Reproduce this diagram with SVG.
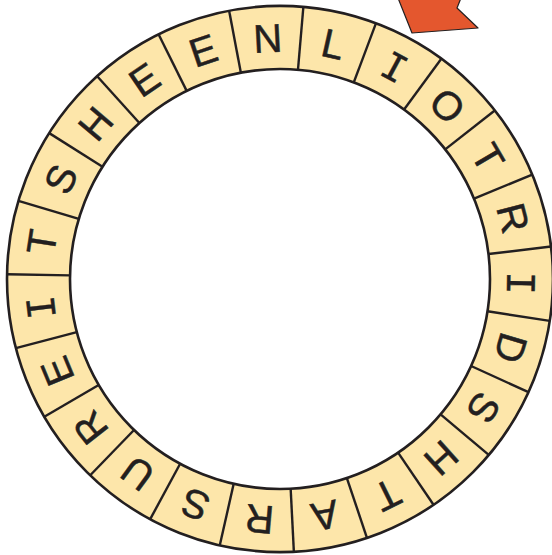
<svg xmlns="http://www.w3.org/2000/svg" width="552" height="555" viewBox="0 0 552 555">
<style>
.ring{fill:#FDE6AA;stroke:#231F20;stroke-width:2.6;fill-rule:evenodd}
.div{stroke:#231F20;stroke-width:2.4}
.lt{font-family:"Liberation Sans",Arial,sans-serif;font-size:40px;fill:#231F20;stroke:#231F20;stroke-width:0.5;text-anchor:middle}
.li{font-family:"DejaVu Sans Mono",monospace;font-size:38px;fill:#231F20;stroke:#231F20;stroke-width:0.4;text-anchor:middle}
.arrow{fill:#E4572E;stroke:#231F20;stroke-width:1.2;stroke-linejoin:round}
</style>
<rect width="552" height="555" fill="#ffffff"/>
<path class="ring" d="M7,279 a273,273 0 1,0 546,0 a273,273 0 1,0 -546,0 Z M70,279 a210,210 0 1,0 420,0 a210,210 0 1,0 -420,0 Z"/>
<g id="connectors">
<line class="div" x1="280" y1="69" x2="280" y2="6" transform="rotate(-89 280 279)"/>
<line class="div" x1="280" y1="69" x2="280" y2="6" transform="rotate(-73.35 280 279)"/>
<line class="div" x1="280" y1="69" x2="280" y2="6" transform="rotate(-57.70 280 279)"/>
<line class="div" x1="280" y1="69" x2="280" y2="6" transform="rotate(-42.04 280 279)"/>
<line class="div" x1="280" y1="69" x2="280" y2="6" transform="rotate(-26.39 280 279)"/>
<line class="div" x1="280" y1="69" x2="280" y2="6" transform="rotate(-10.74 280 279)"/>
<line class="div" x1="280" y1="69" x2="280" y2="6" transform="rotate(4.91 280 279)"/>
<line class="div" x1="280" y1="69" x2="280" y2="6" transform="rotate(20.57 280 279)"/>
<line class="div" x1="280" y1="69" x2="280" y2="6" transform="rotate(36.22 280 279)"/>
<line class="div" x1="280" y1="69" x2="280" y2="6" transform="rotate(51.87 280 279)"/>
<line class="div" x1="280" y1="69" x2="280" y2="6" transform="rotate(67.52 280 279)"/>
<line class="div" x1="280" y1="69" x2="280" y2="6" transform="rotate(83.17 280 279)"/>
<line class="div" x1="280" y1="69" x2="280" y2="6" transform="rotate(98.83 280 279)"/>
<line class="div" x1="280" y1="69" x2="280" y2="6" transform="rotate(114.48 280 279)"/>
<line class="div" x1="280" y1="69" x2="280" y2="6" transform="rotate(130.13 280 279)"/>
<line class="div" x1="280" y1="69" x2="280" y2="6" transform="rotate(145.78 280 279)"/>
<line class="div" x1="280" y1="69" x2="280" y2="6" transform="rotate(161.43 280 279)"/>
<line class="div" x1="280" y1="69" x2="280" y2="6" transform="rotate(177.09 280 279)"/>
<line class="div" x1="280" y1="69" x2="280" y2="6" transform="rotate(192.74 280 279)"/>
<line class="div" x1="280" y1="69" x2="280" y2="6" transform="rotate(208.39 280 279)"/>
<line class="div" x1="280" y1="69" x2="280" y2="6" transform="rotate(224.04 280 279)"/>
<line class="div" x1="280" y1="69" x2="280" y2="6" transform="rotate(239.70 280 279)"/>
<line class="div" x1="280" y1="69" x2="280" y2="6" transform="rotate(255.35 280 279)"/>
</g>
<g id="seg0" transform="rotate(-81.17 280 279)"><text class="lt" x="280" y="52">T</text></g>
<g id="seg1" transform="rotate(-65.52 280 279)"><text class="lt" x="280" y="52">S</text></g>
<g id="seg2" transform="rotate(-49.87 280 279)"><text class="lt" x="280" y="52">H</text></g>
<g id="seg3" transform="rotate(-34.22 280 279)"><text class="lt" x="280" y="52">E</text></g>
<g id="seg4" transform="rotate(-18.57 280 279)"><text class="lt" x="280" y="52">E</text></g>
<g id="seg5" transform="rotate(-2.91 280 279)"><text class="lt" x="280" y="52">N</text></g>
<g id="seg6" transform="rotate(12.74 280 279)"><text class="lt" x="280" y="52">L</text></g>
<g id="seg7" transform="rotate(28.39 280 279)"><text class="li" x="280" y="52">I</text></g>
<g id="seg8" transform="rotate(44.04 280 279)"><text class="lt" x="280" y="52">O</text></g>
<g id="seg9" transform="rotate(59.70 280 279)"><text class="lt" x="280" y="52">T</text></g>
<g id="seg10" transform="rotate(75.35 280 279)"><text class="lt" x="280" y="52">R</text></g>
<g id="seg11" transform="rotate(91.00 280 279)"><text class="li" x="280" y="52">I</text></g>
<g id="seg12" transform="rotate(106.65 280 279)"><text class="lt" x="280" y="52">D</text></g>
<g id="seg13" transform="rotate(122.30 280 279)"><text class="lt" x="280" y="52">S</text></g>
<g id="seg14" transform="rotate(137.96 280 279)"><text class="lt" x="280" y="52">H</text></g>
<g id="seg15" transform="rotate(153.61 280 279)"><text class="lt" x="280" y="52">T</text></g>
<g id="seg16" transform="rotate(169.26 280 279)"><text class="lt" x="280" y="52">A</text></g>
<g id="seg17" transform="rotate(184.91 280 279)"><text class="lt" x="280" y="52">R</text></g>
<g id="seg18" transform="rotate(200.57 280 279)"><text class="lt" x="280" y="52">S</text></g>
<g id="seg19" transform="rotate(216.22 280 279)"><text class="lt" x="280" y="52">U</text></g>
<g id="seg20" transform="rotate(231.87 280 279)"><text class="lt" x="280" y="52">R</text></g>
<g id="seg21" transform="rotate(247.52 280 279)"><text class="lt" x="280" y="52">E</text></g>
<g id="seg22" transform="rotate(263.17 280 279)"><text class="li" x="280" y="52">I</text></g>
<g id="arrow"><polygon class="arrow" points="398,-2 412,33 478,28 457,8 461,-2"/></g>
</svg>
